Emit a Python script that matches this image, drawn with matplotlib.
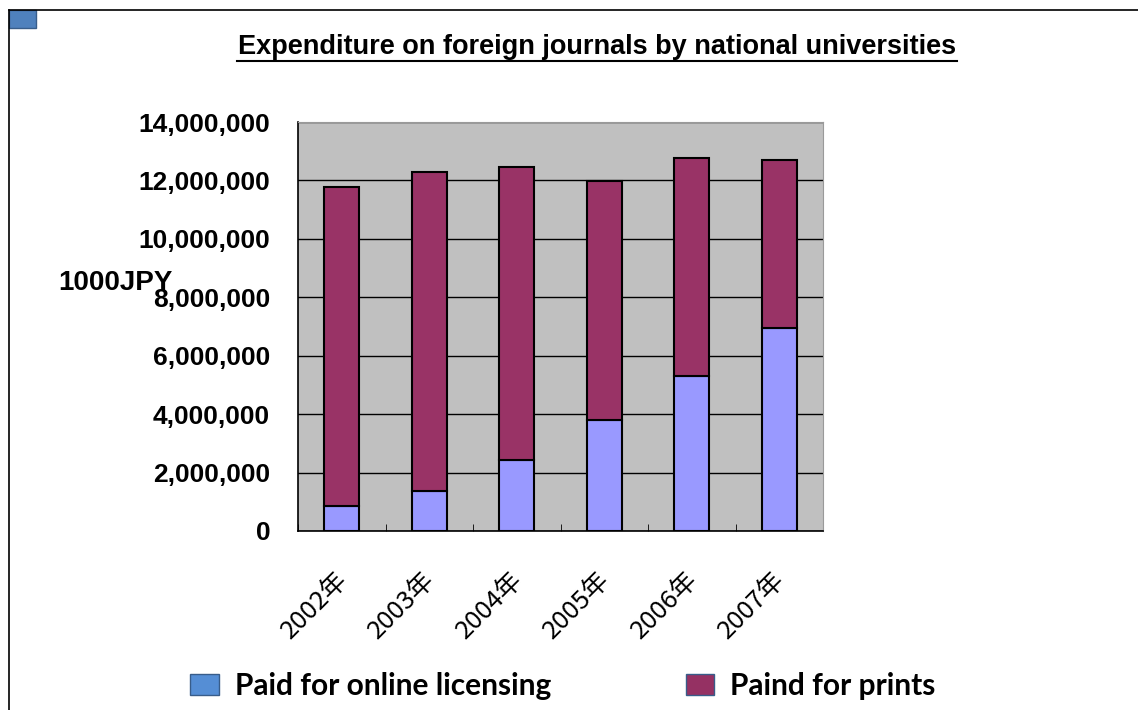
import matplotlib.pyplot as plt
import matplotlib.patches as mpatches
from matplotlib.ticker import FuncFormatter
import numpy as np

years = ['2002年', '2003年', '2004年', '2005年', '2006年', '2007年']
online = [870000, 1360000, 2420000, 3810000, 5320000, 6960000]
total = [11780000, 12300000, 12460000, 11980000, 12760000, 12700000]
prints = [t - o for t, o in zip(total, online)]

fig = plt.figure(figsize=(11.38, 7.1), dpi=100)

# outer frame lines and the little blue box at the top-left
fig.add_artist(plt.Line2D([0.008, 1.0], [0.986, 0.986], color='black', lw=1.2))
fig.add_artist(plt.Line2D([0.008, 0.008], [0.0, 0.986], color='black', lw=1.2))
fig.add_artist(mpatches.Rectangle((0.008, 0.961), 0.024, 0.025, transform=fig.transFigure,
                                  facecolor='#4F81BD', edgecolor='#385D8A', lw=1))

ax = fig.add_axes([298 / 1138, 1 - 531 / 710, 525 / 1138, 409 / 710])
ax.set_facecolor('#C0C0C0')
x = np.arange(len(years))
ax.bar(x, online, width=0.4, color='#9999FF', edgecolor='black', lw=1.5, zorder=3)
ax.bar(x, prints, width=0.4, bottom=online, color='#993366', edgecolor='black', lw=1.5, zorder=3)

ax.set_xlim(-0.5, len(years) - 0.5)
ax.set_ylim(0, 14000000)
ax.set_yticks(np.arange(0, 14000001, 2000000))
ax.yaxis.set_major_formatter(FuncFormatter(lambda v, p: f'{int(v):,}'))
ax.grid(axis='y', color='black', lw=1, zorder=1)
for lab in ax.get_yticklabels():
    lab.set_fontweight('bold')
    lab.set_fontsize(19)
    lab.set_family('Liberation Sans')
ax.tick_params(axis='y', length=0, pad=20)

ax.set_xticks(x)
ax.set_xticklabels(years, rotation=45, ha='right', va='center_baseline', rotation_mode='anchor',
                   fontsize=18.5, family=['Noto Sans CJK JP', 'DejaVu Sans'])
ax.set_xticks(np.arange(-0.5, len(years) - 0.4, 1), minor=True)
ax.tick_params(axis='x', which='major', length=0, pad=31)
ax.tick_params(axis='x', which='minor', direction='in', length=5, color='black')

for s in ['top', 'right']:
    ax.spines[s].set_color('#9a9a9a')
for s in ['bottom', 'left']:
    ax.spines[s].set_color('black')
    ax.spines[s].set_linewidth(1.2)

fig.text(58 / 1138, 1 - 283 / 710, '1000JPY', fontsize=20, fontweight='bold',
         family='Liberation Sans', va='center', ha='left')

fig.text(597 / 1138, 1 - 47 / 710, 'Expenditure on foreign journals by national universities',
         fontsize=19.5, fontweight='bold', family='Liberation Sans', ha='center', va='center')
fig.add_artist(plt.Line2D([237 / 1138, 957 / 1138], [1 - 61 / 710, 1 - 61 / 710], color='black', lw=1.5))

handles = [mpatches.Patch(facecolor='#558ED5', edgecolor='#385D8A', label='Paid for online licensing'),
           mpatches.Patch(facecolor='#953163', edgecolor='#385D8A', label='Paind for prints')]
fig.legend(handles=handles, loc='center', bbox_to_anchor=(563 / 1138, 1 - 686 / 710), ncol=2,
           frameon=False, prop={'family': 'Lato', 'weight': 'bold', 'size': 21.5},
           handlelength=0.95, handleheight=0.7, columnspacing=4.5, handletextpad=0.55)

fig.savefig('out.png', dpi=100)
